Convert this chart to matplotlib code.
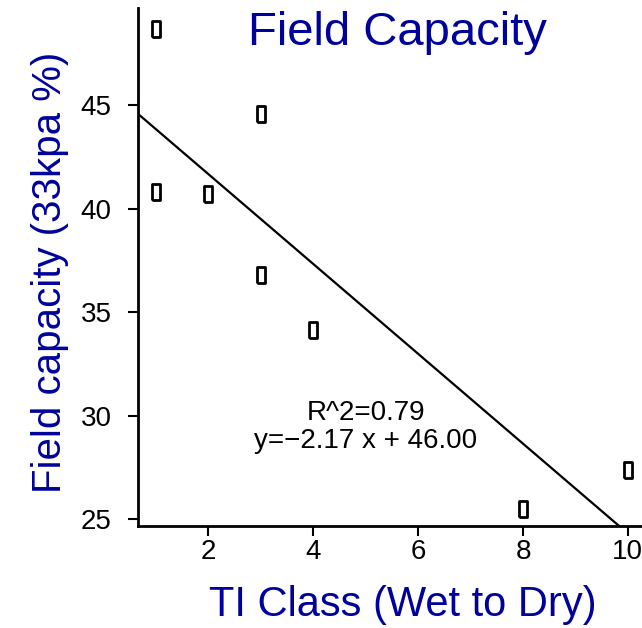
import numpy as np
import matplotlib
matplotlib.use("Agg")
import matplotlib.pyplot as plt

# data
ti_class = [1, 1, 2, 3, 3, 4, 8, 10]
field_cap = [48.7, 40.8, 40.7, 44.55, 36.8, 34.15, 25.5, 27.35]
slope, intercept = -2.17, 46.00
r2 = 0.79
xticks = [2, 4, 6, 8, 10]
yticks = [25, 30, 35, 40, 45]

blue = "#00009C"
plt.rcParams["font.family"] = ["Liberation Sans", "DejaVu Sans"]

fig = plt.figure(figsize=(6.42, 6.28), dpi=100)
ax = fig.add_axes([0.215, 0.1624, 0.785, 0.8248])

box = [(-0.5, -1), (0.5, -1), (0.5, 1), (-0.5, 1), (-0.5, -1)]
ax.plot(ti_class, field_cap, linestyle="none", marker=box, markersize=12,
        markerfacecolor="white", markeredgecolor="black", markeredgewidth=2)

ax.set_xlim(0.656, 10.27)
ax.set_ylim(24.66, 49.69)
xs = np.array(ax.get_xlim())
ax.plot(xs, slope * xs + intercept, color="black", lw=1.6)

ax.text(5, 30.1, "R^2=%.2f" % r2, ha="center", va="center", fontsize=20)
ax.text(5, 28.75, "y=\u22122.17 x + %.2f" % intercept, ha="center", va="center", fontsize=20)

ax.set_xticks(xticks)
ax.set_yticks(yticks)
ax.tick_params(axis="both", direction="out", length=7, width=1.5, labelsize=20)
ax.tick_params(axis="y", pad=12)
ax.tick_params(axis="x", pad=2)
for s in ["top", "right"]:
    ax.spines[s].set_visible(False)
for s in ["left", "bottom"]:
    ax.spines[s].set_linewidth(2)

fig.text(397 / 642, 1 - 33 / 628, "Field Capacity", color=blue, fontsize=34,
         ha="center", va="center")
fig.text(403 / 642, 1 - 605 / 628, "TI Class (Wet to Dry)", color=blue, fontsize=30,
         ha="center", va="center")
fig.text(50 / 642, 1 - 272 / 628, "Field capacity (33kpa %)", color=blue, fontsize=29,
         ha="center", va="center", rotation=90)

fig.savefig("out.png", dpi=100)
